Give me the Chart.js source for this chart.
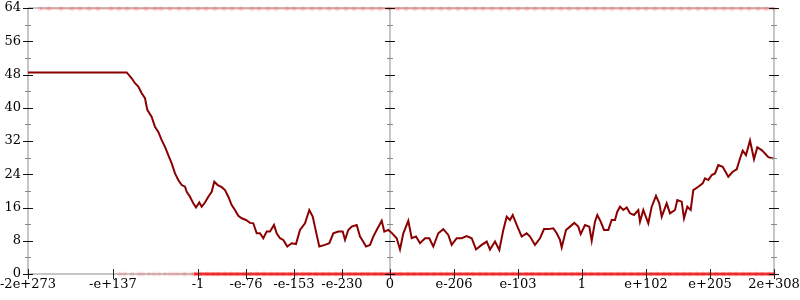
<!DOCTYPE html>
<html>
<head>
<meta charset="utf-8">
<script src="https://cdn.jsdelivr.net/npm/chart.js@4/dist/chart.umd.min.js"></script>
<style>
html, body { margin: 0; padding: 0; background: #fff; }
#wrap { width: 800px; height: 300px; }
</style>
</head>
<body>
<div id="wrap"><canvas id="chart"></canvas></div>
<script>
// tick positions along the (non uniform) x axis, and their labels
var xTickPos = [0, 85, 170, 218, 266, 314, 362, 426, 490, 554, 618, 682, 746];
var xTickLabels = ['-2e+273', '-e+137', '-1', '-e-76', '-e-153', '-e-230', '0',
                   'e-206', 'e-103', '1', 'e+102', 'e+205', '2e+308'];
var zeroPos = 362;

// main series
var lineX = [0, 98.7, 103.7, 107, 110.3, 113.7, 117, 119.3, 123.7, 127, 130.3, 133.7, 137, 140.3,
  143.7, 147, 150.3, 153.7, 157, 158.7, 162, 165.3, 168, 171.3, 173.7, 177, 180.3, 183.7, 186.3,
  189.7, 193.7, 197, 200.3, 203.7, 207, 210.3, 213.7, 218, 222, 225.3, 228.7, 232, 235.3, 238.7,
  242, 246, 248.7, 252, 255.3, 259.3, 263.7, 268, 272, 277, 281.3, 284.7, 288, 291.3, 297, 301.3,
  305.3, 310.3, 314.7, 317, 320.3, 323.7, 328.7, 332, 334.7, 338, 342, 345.3, 348.7, 353.7, 356.3,
  360.3, 363.7, 368.7, 372, 375.3, 380.3, 383.7, 388, 392, 397, 401.3, 405.3, 410.3, 415.3, 420.3,
  423.7, 428.7, 433.7, 438.7, 443.7, 448, 453.7, 458.7, 462, 467, 471.3, 475.3, 478.7, 482, 484.7,
  488.7, 493.7, 498.7, 502, 507, 512,
  516, 520.3, 525.3, 528.7, 532, 533.7, 538, 542, 546.3, 550.3, 552.7, 557, 561.3, 563.7, 567,
  569.3, 572.7, 576, 580.3, 583.7, 587, 589.3, 592, 595.3, 598.7, 602, 606, 610.3, 612, 615.3,
  620.3, 623.7, 628, 631.3, 633.7, 638.7, 642, 647, 649.3, 653.7, 656, 659.3, 662.7, 665.3, 670.3,
  674.7, 677, 680.3, 683.7, 687, 690.3, 694.7, 700.3, 704.7, 708.7, 712, 714.7, 718, 722, 726,
  729.3, 733.7, 737, 740.3, 745.3];
var lineY = [48.5, 48.5, 47.1, 45.9, 45.1, 43.5, 42.3, 39.5, 37.8, 35.4, 34.2, 32.2, 30.6, 28.6,
  26.6, 24.2, 22.6, 21.4, 21.0, 19.8, 18.6, 17.0, 16.0, 17.2, 16.2, 17.2, 18.6, 19.8, 22.2,
  21.4, 20.9, 20.2, 18.6, 16.6, 15.4, 14.0, 13.4, 13.0, 12.3, 12.2, 9.8, 9.8, 8.6, 10.2,
  10.2, 11.8, 9.8, 8.6, 8.2, 6.6, 7.4, 7.2, 10.6, 12.2, 15.4, 13.8, 10.2, 6.6, 7.0, 7.4,
  9.8, 10.2, 10.2, 8.2, 10.6, 11.4, 11.8, 9.0, 8.0, 6.6, 7.0, 9.0, 10.6, 12.8, 10.2,
  10.6, 9.9, 8.6, 5.9, 9.8, 12.8, 8.6, 9.0, 7.4, 8.6, 8.6, 6.6, 9.8, 10.8, 9.4,
  7.0, 8.6, 8.6, 9.1, 8.6, 5.9, 7.0, 7.8, 5.9, 7.8, 5.8, 10.6, 13.8, 13.0, 14.2,
  11.8, 9.0, 9.8, 9.0, 7.0, 8.6,
  10.8, 10.8, 11.0, 9.8, 8.2, 6.4, 10.6, 11.4, 12.3, 11.4, 9.6, 11.8, 11.4, 8.0, 12.6,
  14.2, 12.6, 10.6, 10.6, 13.0, 13.0, 15.0, 16.2, 15.4, 16.0, 14.6, 14.2, 15.4, 12.6, 15.4,
  12.2, 16.2, 18.8, 17.0, 13.8, 17.0, 14.6, 15.4, 17.8, 17.4, 13.4, 16.2, 15.4, 20.2, 21.0,
  21.8, 23.0, 22.6, 23.8, 24.2, 26.2, 25.8, 23.4, 24.6, 25.2, 27.8, 29.7, 28.6, 32.1, 27.6,
  30.5, 29.8, 29.0, 28.1, 27.8];

// faint red point clouds along the bottom and top edges
var bottomSparseX = [92, 97, 104, 111, 115, 121, 126, 131, 137, 142, 146, 150, 155, 158, 163];
var bottomDenseX = [166, 172, 179, 185, 190, 197, 203, 209, 216, 222, 229, 236, 243, 249, 255,
  262, 268, 275, 281, 288, 295, 301, 308, 314, 321, 327, 334, 340, 347, 353, 360, 366, 373, 380,
  386, 393, 399, 406, 413, 419, 426, 432, 439, 445, 452, 458, 465, 472, 478, 485, 491, 498, 504,
  511, 518, 524, 531, 537, 544, 550, 557, 563, 570, 577, 583, 590, 596, 603, 610, 616, 623, 629,
  636, 642, 649, 656, 662, 669, 675, 682, 688, 695, 702, 708, 715, 721, 728, 734, 741, 746];
var topX = [12, 21, 33, 44, 52, 61, 70, 83, 91, 99, 108, 118, 127, 133, 142, 151, 160, 170, 178,
  187, 196, 204, 213, 224, 231, 240, 248, 259, 266, 275, 284, 292, 301, 309, 318, 326, 335, 344,
  352, 361, 370, 378, 387, 396, 404, 413, 421, 430, 438, 447, 455, 464, 473, 481, 490, 499, 507,
  516, 524, 533, 541, 550, 559, 567, 576, 584, 593, 601, 610, 618, 627, 636, 644, 653, 661, 670,
  678, 687, 696, 704, 713, 721, 730, 738, 746];

function pts(xs, ys) {
  return xs.map(function (x, i) { return { x: x, y: Array.isArray(ys) ? ys[i] : ys }; });
}

var axesPlugin = {
  id: 'axesPlugin',
  beforeDatasetsDraw: function (chart) {
    var ctx = chart.ctx, a = chart.chartArea;
    var xMid = chart.scales.x.getPixelForValue(zeroPos);
    ctx.save();
    ctx.strokeStyle = '#b4b4b4';
    ctx.lineWidth = 1.5;
    ctx.beginPath();
    ctx.moveTo(a.left, a.top); ctx.lineTo(a.right, a.top);
    ctx.moveTo(a.left, a.bottom); ctx.lineTo(a.right, a.bottom);
    [a.left, xMid, a.right].forEach(function (x) {
      ctx.moveTo(x, a.top); ctx.lineTo(x, a.bottom);
    });
    ctx.stroke();
    ctx.restore();
  },
  afterDatasetsDraw: function (chart) {
    var ctx = chart.ctx, a = chart.chartArea;
    var xs = chart.scales.x, ys = chart.scales.y;
    var xMid = xs.getPixelForValue(zeroPos);
    ctx.save();
    ctx.lineWidth = 1;
    [a.left, xMid, a.right].forEach(function (x) {
      for (var v = 0; v <= 64; v += 4) {
        var y = Math.round(ys.getPixelForValue(v)) + 0.5;
        var major = v % 8 === 0;
        var h = major ? 5 : 3;
        ctx.strokeStyle = major ? '#111' : '#888';
        ctx.beginPath();
        ctx.moveTo(x - h, y); ctx.lineTo(x + h, y);
        ctx.stroke();
      }
    });
    ctx.strokeStyle = '#222';
    xTickPos.forEach(function (p) {
      var x = Math.round(xs.getPixelForValue(p)) + 0.5;
      ctx.beginPath();
      ctx.moveTo(x, a.bottom - 5); ctx.lineTo(x, a.bottom + 5);
      ctx.stroke();
    });
    ctx.restore();
  }
};

Chart.defaults.font.family = 'DejaVu Serif';
Chart.defaults.font.size = 13;
Chart.defaults.color = '#000';

const ctx = document.getElementById('chart');
var chart = new Chart(ctx, {
  type: 'scatter',
  data: {
    datasets: [
      {
        data: pts(topX, 63.8),
        showLine: true,
        borderColor: 'rgba(255,60,60,0.22)',
        borderWidth: 2.5,
        pointRadius: 2.5,
        pointBorderWidth: 0,
        pointBackgroundColor: 'rgba(255,0,0,0.12)',
        clip: 6
      },
      {
        data: pts(bottomSparseX, 0),
        pointRadius: 2.5,
        pointBorderWidth: 0,
        pointBackgroundColor: 'rgba(255,0,0,0.12)',
        clip: 6
      },
      {
        data: pts(bottomDenseX, 0),
        showLine: true,
        borderColor: 'rgba(245,0,0,0.75)',
        borderWidth: 3,
        pointRadius: 2.5,
        pointBorderWidth: 0,
        pointBackgroundColor: 'rgba(255,0,0,0.15)',
        clip: 6
      },
      {
        data: pts(lineX, lineY),
        showLine: true,
        borderColor: '#8b0000',
        borderWidth: 2,
        pointRadius: 0,
        tension: 0
      }
    ]
  },
  options: {
    responsive: true,
    maintainAspectRatio: false,
    animation: false,
    layout: { padding: { top: 8, right: 26, left: 0, bottom: 0 } },
    plugins: { legend: { display: false }, tooltip: { enabled: false } },
    scales: {
      x: {
        type: 'linear',
        min: 0,
        max: 746,
        grid: { display: false, drawTicks: false },
        border: { display: false },
        afterBuildTicks: function (scale) {
          scale.ticks = xTickPos.map(function (v) { return { value: v }; });
        },
        afterFit: function (scale) {
          scale.height = 26;
          scale.paddingLeft = 0;
          scale.paddingRight = 0;
        },
        ticks: {
          autoSkip: false,
          maxRotation: 0,
          padding: 3,
          callback: function (v) {
            var i = xTickPos.indexOf(v);
            return i >= 0 ? xTickLabels[i] : '';
          }
        }
      },
      y: {
        min: 0,
        max: 64,
        grid: { display: false, drawTicks: false },
        border: { display: false },
        afterFit: function (scale) {
          scale.width = 28;
          scale.paddingTop = 0;
          scale.paddingBottom = 0;
        },
        ticks: { stepSize: 8, padding: 7 }
      }
    }
  },
  plugins: [axesPlugin]
});
</script>
</body>
</html>
